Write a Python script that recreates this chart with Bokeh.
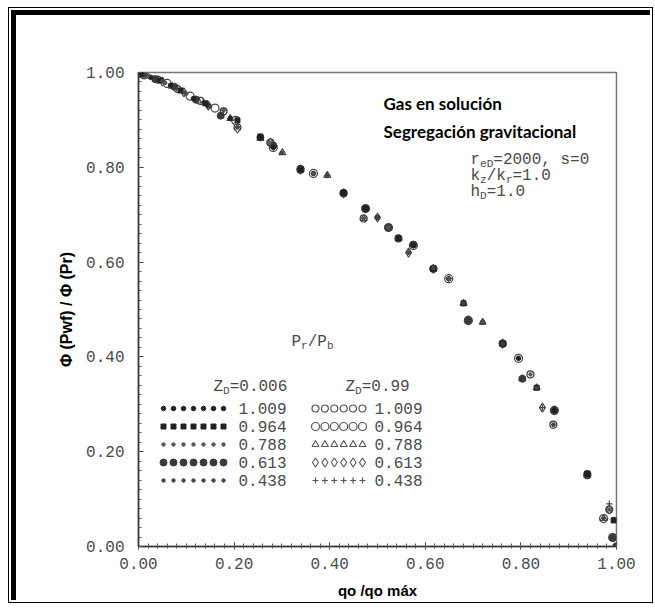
from bokeh.plotting import figure
from bokeh.models import Range1d, SingleIntervalTicker, PrintfTickFormatter, Label
from bokeh.embed import file_html
from bokeh.resources import INLINE

# ---------------- data ----------------
# Z_D = 0.006
a1009_x = [0.000,0.025,0.067,0.115,0.146,0.192,0.255,0.282,0.366,0.429,0.500,0.575,0.649,0.720,0.795,0.870,0.939,0.994]
a1009_y = [1.000,0.990,0.973,0.945,0.930,0.903,0.863,0.842,0.787,0.745,0.694,0.635,0.565,0.473,0.397,0.287,0.152,0.057]
a0964_x = [0.010,0.046,0.088,0.140,0.207,0.255,0.339,0.429,0.475,0.544,0.617,0.680,0.762,0.833,0.939,0.994]
a0964_y = [0.997,0.983,0.962,0.935,0.899,0.865,0.795,0.747,0.713,0.650,0.586,0.513,0.428,0.335,0.154,0.055]
a0788_x = [0.020,0.056,0.100,0.178,0.276,0.366,0.395,0.471,0.523,0.565,0.649,0.720,0.820,0.868,0.985]
a0788_y = [0.993,0.978,0.955,0.920,0.852,0.787,0.783,0.692,0.673,0.620,0.565,0.473,0.363,0.257,0.078]
a0613_x = [0.004,0.035,0.075,0.120,0.172,0.255,0.282,0.339,0.429,0.475,0.523,0.575,0.617,0.690,0.762,0.803,0.870,0.939,0.992,1.000]
a0613_y = [0.998,0.986,0.970,0.943,0.909,0.863,0.846,0.797,0.745,0.713,0.673,0.637,0.586,0.477,0.428,0.354,0.287,0.150,0.019,0.000]
a0438_x = [0.015,0.050,0.095,0.150,0.207,0.300,0.395,0.500,0.565,0.617,0.680,0.762,0.833,0.868,0.973]
a0438_y = [0.995,0.982,0.958,0.928,0.884,0.831,0.783,0.694,0.620,0.588,0.513,0.428,0.335,0.257,0.059]
# Z_D = 0.99
b1009_x = [0.006,0.040,0.082,0.130,0.178,0.207,0.276,0.339,0.429,0.471,0.544,0.617,0.690,0.762,0.820,0.868,0.939,0.985,1.000]
b1009_y = [0.997,0.985,0.965,0.940,0.918,0.884,0.852,0.795,0.745,0.692,0.650,0.586,0.477,0.428,0.363,0.257,0.152,0.078,0.000]
b0964_x = [0.012,0.060,0.108,0.160,0.203,0.282,0.366,0.475,0.523,0.575,0.649,0.690,0.795,0.870,0.973,0.992]
b0964_y = [0.995,0.977,0.950,0.925,0.899,0.842,0.787,0.713,0.673,0.635,0.565,0.477,0.397,0.287,0.059,0.019]
b0788_x = [0.018,0.070,0.125,0.192,0.255,0.301,0.395,0.471,0.544,0.680,0.720,0.803,0.833,0.939,0.973]
b0788_y = [0.993,0.971,0.940,0.903,0.861,0.831,0.783,0.692,0.650,0.513,0.473,0.354,0.335,0.150,0.059]
b0613_x = [0.008,0.050,0.095,0.146,0.207,0.276,0.339,0.429,0.500,0.565,0.617,0.690,0.762,0.845,0.870,0.985]
b0613_y = [0.996,0.981,0.958,0.930,0.882,0.852,0.795,0.745,0.694,0.620,0.586,0.477,0.428,0.293,0.287,0.078]
b0438_x = [0.030,0.080,0.135,0.178,0.282,0.395,0.475,0.575,0.649,0.680,0.803,0.845,0.985]
b0438_y = [0.988,0.966,0.937,0.920,0.842,0.783,0.713,0.635,0.565,0.513,0.354,0.293,0.090]

pr_labels = ["1.009", "0.964", "0.788", "0.613", "0.438"]

# ---------------- layout helpers (page pixels -> data, for in-frame annotations) ----------------
FX0, FX1 = 138.0, 616.0   # page x of x=0 and x=1
FY0, FY1 = 546.0, 72.0    # page y of y=0 and y=1
def dx(px):
    return (px - FX0) / (FX1 - FX0)
def dy(py):
    return (FY0 - py) / (FY0 - FY1)

W, H = 639, 590
p = figure(width=W, height=H, x_range=Range1d(0, 1), y_range=Range1d(0, 1),
           output_backend="svg", toolbar_location=None,
           min_border_left=122, min_border_right=39, min_border_top=57, min_border_bottom=59,
           x_axis_label="qo /qo máx", y_axis_label="Φ (Pwf) / Φ (Pr)")
# scanned page frame (thick black line + thin outer line)
p.styles = {"border-left": "5px solid black", "border-top": "5px solid black",
            "outline": "1px solid black", "outline-offset": "2px",
            "margin-left": "11px", "margin-top": "10px"}
p.background_fill_color = "white"
p.border_fill_color = "white"
p.xgrid.visible = False
p.ygrid.visible = False
p.outline_line_color = "#777777"
p.outline_line_width = 1.5

MONO = "Liberation Mono"
SANS = "Liberation Sans"
GRAY = "#4a4a4a"
for ax in (p.xaxis[0], p.yaxis[0]):
    ax.ticker = SingleIntervalTicker(interval=0.2, num_minor_ticks=10)
    ax.formatter = PrintfTickFormatter(format="%.2f")
    ax.major_label_text_font = MONO
    ax.major_label_text_font_size = "16px"
    ax.major_label_text_color = GRAY
    ax.axis_line_color = "#333333"
    ax.axis_line_width = 1.5
    ax.major_tick_line_color = "#333333"
    ax.minor_tick_line_color = "#555555"
    ax.axis_label_text_font = SANS
    ax.axis_label_text_font_style = "bold"
    ax.axis_label_text_color = "black"
p.yaxis.axis_label_text_font_size = "16px"
p.xaxis.axis_label_text_font_size = "15px"
p.yaxis.major_tick_in = 5
p.yaxis.major_tick_out = 0
p.yaxis.minor_tick_in = 3
p.yaxis.minor_tick_out = 0
p.yaxis.major_label_standoff = 14
p.yaxis.axis_label_standoff = 8
p.xaxis.major_tick_in = 4
p.xaxis.major_tick_out = 3
p.xaxis.minor_tick_in = 3
p.xaxis.minor_tick_out = 2
p.xaxis.major_label_standoff = 8
p.xaxis.axis_label_standoff = 10

# ---------------- data marks ----------------
DARK = "#222222"
p.scatter(b1009_x, b1009_y, marker="circle", size=7, fill_color="white", line_color="#333333", line_width=1.2)
p.scatter(b0964_x, b0964_y, marker="circle", size=8, fill_color="white", line_color="#444444", line_width=1.2)
p.scatter(b0788_x, b0788_y, marker="triangle", size=7, fill_color="white", line_color="#444444", line_width=1.1)
p.scatter(b0613_x, b0613_y, marker="diamond", size=9, fill_color="white", line_color="#444444", line_width=1.1)
p.scatter(b0438_x, b0438_y, marker="cross", size=6, line_color="#444444", line_width=1.2)
p.scatter(a0613_x, a0613_y, marker="circle", size=7, fill_color="#3a3a3a", line_color="#3a3a3a")
p.scatter(a0964_x, a0964_y, marker="square", size=5, fill_color=DARK, line_color=DARK)
p.scatter(a1009_x, a1009_y, marker="circle", size=4.5, fill_color=DARK, line_color=DARK)
p.scatter(a0788_x, a0788_y, marker="circle", size=3.5, fill_color="#555555", line_color="#555555")
p.scatter(a0438_x, a0438_y, marker="circle", size=3.5, fill_color="#444444", line_color="#444444")

# ---------------- text helpers (in-frame annotations, data units, centred vertically) ----------------
def lab(text, px, py, size, font, style="normal", color="black", align="left"):
    p.add_layout(Label(x=dx(px), y=dy(py), text=text, text_font=font,
                       text_font_size=f"{size}px", text_font_style=style,
                       text_color=color, text_align=align, text_baseline="middle"))

def mono_line(parts, px, py, size=16, sub=11, color=GRAY):
    # parts: list of (text, is_subscript); monospace advance = 0.6 em
    x = px
    for t, s in parts:
        if s:
            lab(t, x, py + 4, sub, MONO, color=color)
            x += 0.6 * sub * len(t)
        else:
            lab(t, x, py, size, MONO, color=color)
            x += 0.6 * size * len(t)

# titles
TITLE_FONT = "Lato"
lab("Gas en solución", 383, 103, 17, TITLE_FONT, style="bold")
lab("Segregación gravitacional", 383, 131, 17, TITLE_FONT, style="bold")

mono_line([("r", False), ("eD", True), ("=2000, s=0", False)], 470, 159)
mono_line([("k", False), ("z", True), ("/k", False), ("r", True), ("=1.0", False)], 470, 175)
mono_line([("h", False), ("D", True), ("=1.0", False)], 470, 191)

# legend
mono_line([("P", False), ("r", True), ("/P", False), ("b", True)], 291, 341)
mono_line([("Z", False), ("D", True), ("=0.006", False)], 213, 386)
mono_line([("Z", False), ("D", True), ("=0.99", False)], 345, 386)

row_y = [408, 426, 444, 462, 480]
left_px = [163, 173, 183, 193, 203, 213, 223]
right_px = [315, 324.4, 333.8, 343.2, 352.6, 362]
left_styles = [
    dict(marker="circle", size=4.5, fill_color=DARK, line_color=DARK),
    dict(marker="square", size=5, fill_color=DARK, line_color=DARK),
    dict(marker="circle", size=3.5, fill_color="#555555", line_color="#555555"),
    dict(marker="circle", size=7, fill_color="#3a3a3a", line_color="#3a3a3a"),
    dict(marker="circle", size=3.5, fill_color="#444444", line_color="#444444"),
]
right_styles = [
    dict(marker="circle", size=7, fill_color="white", line_color="#555555", line_width=1.2),
    dict(marker="circle", size=8, fill_color="white", line_color="#555555", line_width=1.2),
    dict(marker="triangle", size=7, fill_color="white", line_color="#555555", line_width=1.1),
    dict(marker="diamond", size=9, fill_color="white", line_color="#555555", line_width=1.1),
    dict(marker="cross", size=6, line_color="#555555", line_width=1.2),
]
for i, (ry, lbl) in enumerate(zip(row_y, pr_labels)):
    p.scatter([dx(v) for v in left_px], [dy(ry)] * len(left_px), **left_styles[i])
    p.scatter([dx(v) for v in right_px], [dy(ry)] * len(right_px), **right_styles[i])
    lab(lbl, 238, ry, 16, MONO, color=GRAY)
    lab(lbl, 374, ry, 16, MONO, color=GRAY)

open("out.html", "w").write(file_html(p, INLINE))
